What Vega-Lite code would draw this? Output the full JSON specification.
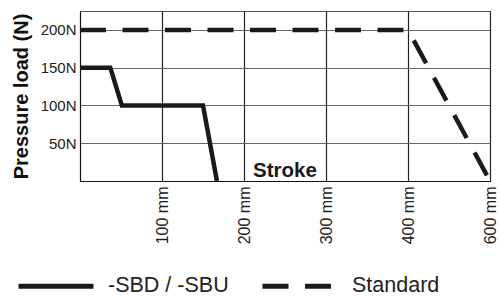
{
  "$schema": "https://vega.github.io/schema/vega-lite/v6.json",
  "width": 410,
  "height": 170,
  "autosize": {"type": "none"},
  "padding": {"left": 80, "top": 11, "right": 11, "bottom": 116},
  "background": "white",
  "config": {
    "font": "Liberation Sans",
    "view": {"stroke": "#555", "strokeWidth": 1}
  },
  "layer": [
    {
      "data": {
        "values": [
          {"series": "-SBD / -SBU", "i": 0, "stroke": 0, "load": 150},
          {"series": "-SBD / -SBU", "i": 1, "stroke": 0.37, "load": 150},
          {"series": "-SBD / -SBU", "i": 2, "stroke": 0.51, "load": 100},
          {"series": "-SBD / -SBU", "i": 3, "stroke": 1.5, "load": 100},
          {"series": "-SBD / -SBU", "i": 4, "stroke": 1.67, "load": 0},
          {"series": "Standard", "i": 0, "stroke": 0, "load": 200},
          {"series": "Standard", "i": 1, "stroke": 4, "load": 200},
          {"series": "Standard", "i": 2, "stroke": 5, "load": 0}
        ]
      },
      "mark": {"type": "line", "strokeWidth": 4.5, "color": "#1a1a1a", "strokeCap": "butt", "strokeJoin": "miter"},
      "encoding": {
        "x": {
          "field": "stroke",
          "type": "quantitative",
          "scale": {"domain": [0, 5], "nice": false, "zero": false},
          "axis": {
            "values": [1, 2, 3, 4, 5],
            "labelExpr": "datum.value == 5 ? '600 mm' : (datum.value * 100) + ' mm'",
            "labelAngle": 270,
            "labelFontSize": 16,
            "labelColor": "#222",
            "labelPadding": 5,
            "ticks": false,
            "domainColor": "#111",
            "domainWidth": 1.2,
            "grid": true,
            "gridColor": "#222",
            "gridWidth": 1.2,
            "gridOpacity": 1,
            "title": null
          }
        },
        "y": {
          "field": "load",
          "type": "quantitative",
          "scale": {"domain": [0, 225], "nice": false},
          "axis": {
            "values": [50, 100, 150, 200],
            "labelExpr": "datum.value + 'N'",
            "labelFontSize": 15,
            "labelColor": "#222",
            "labelPadding": 4,
            "ticks": false,
            "domainColor": "#111",
            "domainWidth": 1.2,
            "grid": true,
            "gridColor": "#666",
            "gridWidth": 1,
            "gridOpacity": 1,
            "title": "Pressure load (N)",
            "titleFontSize": 20,
            "titleFontWeight": "bold",
            "titleColor": "#111",
            "titlePadding": 9
          }
        },
        "strokeDash": {
          "field": "series",
          "type": "nominal",
          "scale": {"domain": ["-SBD / -SBU", "Standard"], "range": [[1, 0], [26, 16.5]]},
          "legend": {
            "orient": "none",
            "legendX": -64,
            "legendY": 235,
            "direction": "horizontal",
            "title": null,
            "symbolType": "stroke",
            "symbolSize": 5625,
            "symbolStrokeWidth": 5,
            "symbolStrokeColor": "#1a1a1a",
            "labelFontSize": 21.5,
            "labelColor": "#222",
            "labelOffset": 12,
            "columnPadding": 23,
            "labelLimit": 300
          }
        },
        "order": {"field": "i", "type": "quantitative"}
      }
    },
    {
      "data": {"values": [{"stroke": 2.11, "load": 5, "label": "Stroke"}]},
      "mark": {"type": "text", "align": "left", "baseline": "alphabetic", "fontSize": 20.5, "fontWeight": "bold", "color": "#1a1a1a"},
      "encoding": {
        "x": {"field": "stroke", "type": "quantitative"},
        "y": {"field": "load", "type": "quantitative"},
        "text": {"field": "label"}
      }
    }
  ]
}
